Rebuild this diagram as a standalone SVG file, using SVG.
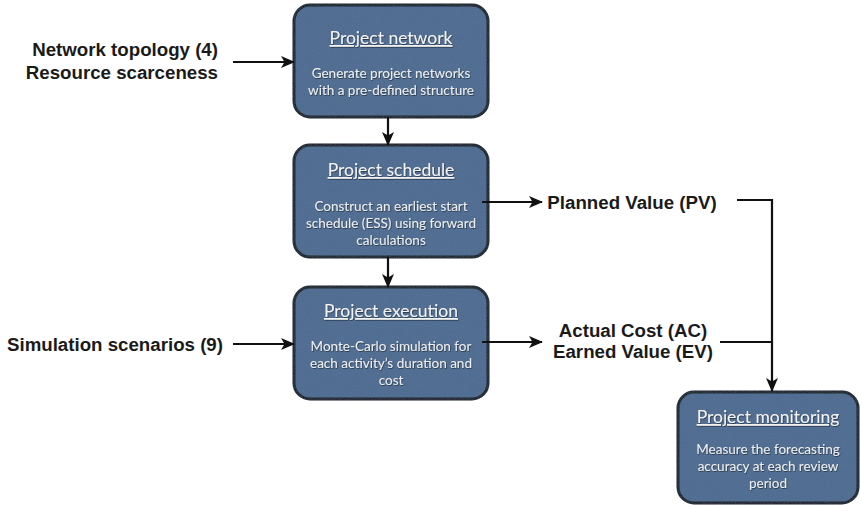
<svg xmlns="http://www.w3.org/2000/svg" width="861" height="505" viewBox="0 0 861 505">
<defs>
<marker id="ah" markerWidth="14" markerHeight="12" refX="13" refY="6" orient="auto" markerUnits="userSpaceOnUse">
<path d="M0,0 L14,6 L0,12 L3.5,6 Z" fill="#111"/>
</marker>
<filter id="tex" x="-5%" y="-5%" width="110%" height="115%">
<feTurbulence type="fractalNoise" baseFrequency="0.9" numOctaves="2" seed="3" result="n"/>
<feColorMatrix in="n" type="matrix" values="0 0 0 0 0.2  0 0 0 0 0.3  0 0 0 0 0.45  0 0 0 0.18 0" result="nc"/>
<feComposite in="nc" in2="SourceGraphic" operator="in" result="tn"/>
<feMerge><feMergeNode in="SourceGraphic"/><feMergeNode in="tn"/></feMerge>
</filter>
<filter id="ts" x="-5%" y="-20%" width="110%" height="140%">
<feDropShadow dx="0.6" dy="0.8" stdDeviation="0.6" flood-color="#1c2633" flood-opacity="0.8"/>
</filter>
</defs>
<style>
.box{fill:#4e6a8f;stroke:#151515;stroke-width:3}
.tt{font-family:Lato,"Open Sans",sans-serif;font-size:17.5px;fill:#f2f2f2;text-anchor:middle;text-decoration:underline}
.bd{font-family:Lato,"Open Sans",sans-serif;font-size:13.5px;fill:#eceef0;text-anchor:middle}
.lb{font-family:"Liberation Sans",Arial,sans-serif;font-size:18.7px;font-weight:bold;fill:#1a1a1a}
.cn{stroke:#111;stroke-width:2.2;fill:none}
</style>
<g id="network">
<rect class="box" x="294" y="5" width="194" height="112" rx="16" filter="url(#tex)"/>
<g filter="url(#ts)">
<text class="tt" x="391" y="44">Project network</text>
<text class="bd" x="391" y="78">Generate project networks</text>
<text class="bd" x="391" y="95">with a pre-defined structure</text>
</g>
</g>
<g id="schedule">
<rect class="box" x="294" y="145" width="194" height="112" rx="16" filter="url(#tex)"/>
<g filter="url(#ts)">
<text class="tt" x="391" y="176">Project schedule</text>
<text class="bd" x="391" y="211">Construct an earliest start</text>
<text class="bd" x="391" y="228">schedule (ESS) using forward</text>
<text class="bd" x="391" y="245">calculations</text>
</g>
</g>
<g id="execution">
<rect class="box" x="294" y="287" width="194" height="112" rx="16" filter="url(#tex)"/>
<g filter="url(#ts)">
<text class="tt" x="391" y="317">Project execution</text>
<text class="bd" x="391" y="351">Monte-Carlo simulation for</text>
<text class="bd" x="391" y="368">each activity’s duration and</text>
<text class="bd" x="391" y="385">cost</text>
</g>
</g>
<g id="monitoring">
<rect class="box" x="678" y="392" width="180" height="111" rx="16" filter="url(#tex)"/>
<g filter="url(#ts)">
<text class="tt" x="768" y="423">Project monitoring</text>
<text class="bd" x="768" y="454">Measure the forecasting</text>
<text class="bd" x="768" y="471">accuracy at each review</text>
<text class="bd" x="768" y="488">period</text>
</g>
</g>
<g id="labels">
<text class="lb" x="218" y="56" text-anchor="end">Network topology (4)</text>
<text class="lb" x="218" y="79" text-anchor="end">Resource scarceness</text>
<text class="lb" x="223" y="351" text-anchor="end">Simulation scenarios (9)</text>
<text class="lb" x="632" y="209" text-anchor="middle">Planned Value (PV)</text>
<text class="lb" x="633" y="337" text-anchor="middle">Actual Cost (AC)</text>
<text class="lb" x="633" y="358" text-anchor="middle">Earned Value (EV)</text>
</g>
<g id="connectors">
<line class="cn" x1="233" y1="62" x2="294" y2="62" marker-end="url(#ah)"/>
<line class="cn" x1="233" y1="344" x2="294" y2="344" marker-end="url(#ah)"/>
<line class="cn" x1="388" y1="117" x2="388" y2="145" marker-end="url(#ah)"/>
<line class="cn" x1="388" y1="257" x2="388" y2="287" marker-end="url(#ah)"/>
<line class="cn" x1="482" y1="202" x2="542" y2="202" marker-end="url(#ah)"/>
<line class="cn" x1="482" y1="342" x2="542" y2="342" marker-end="url(#ah)"/>
<polyline class="cn" points="737,200 772,200 772,391" marker-end="url(#ah)"/>
<line class="cn" x1="720" y1="342" x2="772" y2="342"/>
</g>
</svg>
